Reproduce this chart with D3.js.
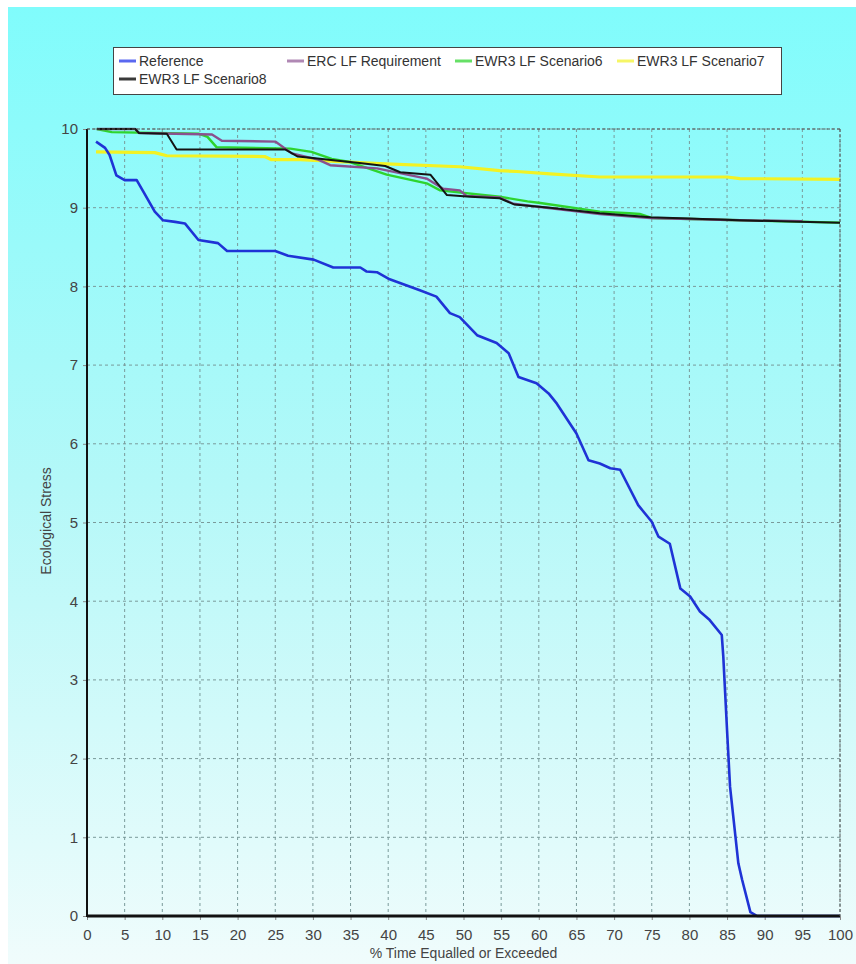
<!DOCTYPE html>
<html><head><meta charset="utf-8">
<script src="https://cdn.jsdelivr.net/npm/d3@7"></script>
<style>html,body{margin:0;padding:0;background:#fff;}svg{display:block;}text{font-family:"Liberation Sans",Arial,sans-serif;}</style>
</head><body>
<script>
// ---- data ----
const seriesNames = ["Reference","ERC LF Requirement","EWR3 LF Scenario6","EWR3 LF Scenario7","EWR3 LF Scenario8"];
const refX = [1.2,2.4,3.0,3.9,5.0,6.6,7.5,9.0,10.1,11.7,13.0,14.8,17.4,18.6,25.0,26.7,30.1,32.7,36.3,37.1,38.5,40.2,44.2,46.4,48.2,49.5,51.8,54.4,56.0,57.3,59.7,61.3,62.4,65.0,66.6,68.1,69.5,70.8,73.2,75.0,75.9,77.4,78.8,80.1,81.4,82.7,84.3,84.5,85.0,85.4,86.5,87.0,88.1,89.0,100];
const refY = [9.84,9.76,9.67,9.41,9.35,9.35,9.20,8.95,8.84,8.82,8.80,8.59,8.55,8.45,8.45,8.39,8.34,8.24,8.24,8.19,8.18,8.09,7.95,7.87,7.66,7.61,7.38,7.28,7.15,6.85,6.77,6.64,6.51,6.13,5.79,5.75,5.69,5.67,5.22,5.01,4.82,4.73,4.16,4.06,3.87,3.76,3.57,3.30,2.36,1.64,0.67,0.46,0.05,0,0];
const ercX = [1.3,6.4,6.9,16.6,17.9,25.0,27.2,30.7,32.3,38.5,45.1,47.3,49.5,50.4,54.8,56.6,61.0,68.1,74.8,86.7,95.0];
const ercY = [10,10,9.95,9.93,9.85,9.84,9.69,9.61,9.54,9.50,9.37,9.24,9.22,9.15,9.13,9.05,9.00,8.92,8.87,8.84,8.83];
const s6X = [1.3,3.3,14.8,16.0,17.2,27.0,29.8,32.5,34.9,39.8,45.1,46.9,54.8,58.5,60.2,68.1,72.0,73.4,75.0,86.7,100];
const s6Y = [10,9.96,9.94,9.90,9.77,9.75,9.71,9.62,9.58,9.42,9.31,9.22,9.14,9.08,9.06,8.95,8.93,8.92,8.87,8.84,8.81];
const s7X = [1.2,9.0,10.6,23.6,24.5,28.3,38.9,49.5,54.8,57.1,61.5,68.1,85.0,86.7,100];
const s7Y = [9.71,9.70,9.66,9.65,9.61,9.61,9.56,9.52,9.47,9.46,9.43,9.39,9.39,9.37,9.36];
const s8X = [1.3,6.4,6.9,10.6,11.9,26.3,28.0,30.0,33.0,35.9,39.6,41.6,45.6,47.8,50.9,54.8,56.8,61.5,68.1,74.8,86.7,94.7,100];
const s8Y = [10,10,9.95,9.94,9.74,9.74,9.65,9.63,9.60,9.57,9.53,9.45,9.42,9.16,9.14,9.12,9.04,9.00,8.93,8.88,8.84,8.82,8.81];
const xTicks = [0,5,10,15,20,25,30,35,40,45,50,55,60,65,70,75,80,85,90,95,100];
const yTicks = [0,1,2,3,4,5,6,7,8,9,10];
const xTitle = "% Time Equalled or Exceeded";
const yTitle = "Ecological Stress";

// ---- drawing ----
const W = 856, H = 964;
const svg = d3.select("body").append("svg").attr("width", W).attr("height", H);
const defs = svg.append("defs");
const grad = defs.append("linearGradient").attr("id","bg").attr("x1",0).attr("y1",0).attr("x2",0).attr("y2",1);
grad.append("stop").attr("offset","0%").attr("stop-color","#80fcfc");
grad.append("stop").attr("offset","50%").attr("stop-color","#b4f8f8");
grad.append("stop").attr("offset","100%").attr("stop-color","#f0fcfc");
svg.append("rect").attr("x",0).attr("y",0).attr("width",W).attr("height",H).attr("fill","#fff");
svg.append("rect").attr("x",8).attr("y",7).attr("width",W-8).attr("height",H-7).attr("fill","url(#bg)");

const L = 87, R = 840, T = 129, B = 916;
const x = d3.scaleLinear().domain([0,100]).range([L,R]);
const y = d3.scaleLinear().domain([0,10]).range([B,T]);

// grid
const grid = svg.append("g");
grid.selectAll("line.vx").data(xTicks.filter(d=>d>0)).enter().append("line")
  .attr("x1",d=>x(d)).attr("x2",d=>x(d)).attr("y1",T).attr("y2",B)
  .attr("stroke","#7a9a9a").attr("stroke-width",1).attr("stroke-dasharray","3,3");
grid.selectAll("line.hy").data(yTicks.filter(d=>d>0)).enter().append("line")
  .attr("x1",L).attr("x2",R).attr("y1",d=>y(d)).attr("y2",d=>y(d))
  .attr("stroke","#7a9a9a").attr("stroke-width",1).attr("stroke-dasharray","3,3");

// axes
const xAxis = d3.axisBottom(x).tickValues(xTicks).tickSize(4).tickPadding(9);
const gx = svg.append("g").attr("transform",`translate(0,${B})`).call(xAxis);
gx.select(".domain").remove();
gx.selectAll(".tick line").attr("stroke","#888");
gx.selectAll(".tick text").attr("fill","#444").style("font-size","15px").style("font-family","'Liberation Sans',Arial,sans-serif");

const yAxis = d3.axisLeft(y).tickValues(yTicks).tickSize(4).tickPadding(5);
const gy = svg.append("g").attr("transform",`translate(${L},0)`).call(yAxis);
gy.select(".domain").remove();
gy.selectAll(".tick line").attr("stroke","#888");
gy.selectAll(".tick text").attr("fill","#444").style("font-size","15px").style("font-family","'Liberation Sans',Arial,sans-serif");

// series
const mk = (xs, ys) => xs.map((v,i)=>[v, ys[i]]);
const line = d3.line().x(d=>x(d[0])).y(d=>y(d[1]));
const series = [
  {name:seriesNames[3], data:mk(s7X,s7Y), color:"#f2f224", w:3.2},
  {name:seriesNames[2], data:mk(s6X,s6Y), color:"#2ed42e", w:2.4},
  {name:seriesNames[1], data:mk(ercX,ercY), color:"#8a508e", w:2.4},
  {name:seriesNames[4], data:mk(s8X,s8Y), color:"#141414", w:2},
  {name:seriesNames[0], data:mk(refX,refY), color:"#1f33d6", w:2.6}
];
series.forEach(s=>{
  svg.append("path").datum(s.data).attr("d",line).attr("fill","none")
    .attr("stroke",s.color).attr("stroke-width",s.w).attr("stroke-linejoin","round");
});

// axis lines
svg.append("line").attr("x1",L).attr("x2",L).attr("y1",T).attr("y2",B+1).attr("stroke","#111").attr("stroke-width",2);
svg.append("line").attr("x1",L).attr("x2",R).attr("y1",B).attr("y2",B).attr("stroke","#111").attr("stroke-width",3);
svg.append("line").attr("x1",L).attr("x2",R).attr("y1",T).attr("y2",T).attr("stroke","#555").attr("stroke-width",1).attr("stroke-dasharray","3,2");
svg.append("line").attr("x1",R).attr("x2",R).attr("y1",T).attr("y2",B).attr("stroke","#555").attr("stroke-width",1).attr("stroke-dasharray","3,2");

// titles
svg.append("text").attr("x",(L+R)/2).attr("y",958).attr("text-anchor","middle")
  .attr("fill","#444").style("font-size","14px").text(xTitle);
svg.append("text").attr("transform","translate(51,521) rotate(-90)").attr("text-anchor","middle")
  .attr("fill","#444").style("font-size","14px").text(yTitle);

// legend
const lg = svg.append("g");
lg.append("rect").attr("x",113.5).attr("y",47.5).attr("width",668).attr("height",47)
  .attr("fill","#fff").attr("stroke","#444").attr("stroke-width",1);
const legendColors = {"Reference":"#5a68f0","ERC LF Requirement":"#b088b4","EWR3 LF Scenario6":"#66e066","EWR3 LF Scenario7":"#f6f666","EWR3 LF Scenario8":"#3a3a3a"};
const legendPos = [[119,61],[287,61],[455,61],[617,61],[119,79]];
seriesNames.forEach((n,i)=>{
  const [lx,ly] = legendPos[i];
  lg.append("line").attr("x1",lx).attr("x2",lx+17).attr("y1",ly).attr("y2",ly)
    .attr("stroke",legendColors[n]).attr("stroke-width",3);
  lg.append("text").attr("x",lx+20).attr("y",ly+5).attr("fill","#333").style("font-size","14px").text(n);
});
</script>
</body></html>
